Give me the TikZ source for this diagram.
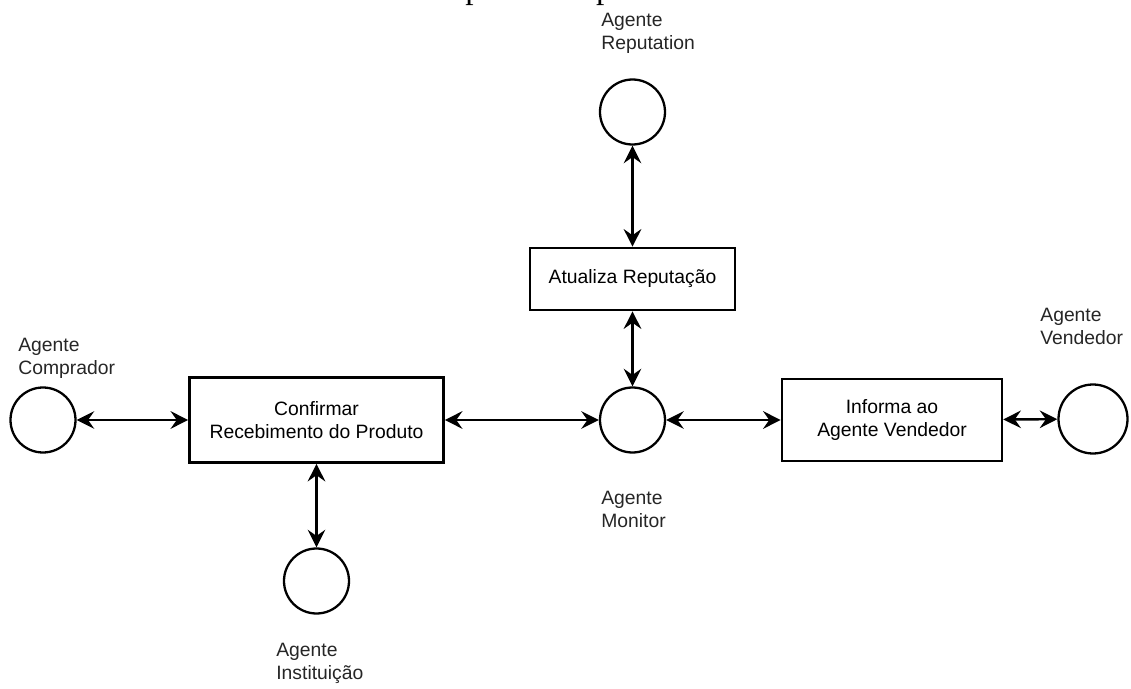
\documentclass[tikz,border=0pt]{standalone}
\usepackage{fontspec}
\setmainfont{Liberation Sans}
\newfontfamily\titlefont{Liberation Serif}
\usetikzlibrary{arrows.meta}
\tikzset{
  agente/.style={circle, draw=black, line width=1.3pt, minimum size=1.3cm, inner sep=0pt},
  acao/.style={rectangle, draw=black, line width=1.5pt, align=center, inner sep=0pt,
    font=\fontsize{11}{13.5}\selectfont},
  rotulo/.style={anchor=north west, align=left, inner sep=0pt,
    font=\fontsize{11}{12.8}\selectfont, text=black!85},
  seta/.style={line width=1.4pt, {Stealth[length=10pt,width=10pt,inset=3.5pt]}-{Stealth[length=10pt,width=10pt,inset=3.5pt]}}
}
\begin{document}
\begin{tikzpicture}
\useasboundingbox (0,0) rectangle (22.62,13.76);
% caption cut by the page edge
\node[anchor=base west, inner sep=0pt, font=\titlefont\fontsize{19}{22}\selectfont] (titulo) at (9.30,13.78) {pelo Comprador};

% agents
\node[agente] (rep) at (12.65,11.52) {};
\node[agente] (mon) at (12.65,5.36) {};
\node[agente] (comp) at (0.86,5.36) {};
\node[agente] (inst) at (6.33,2.14) {};
\node[agente, minimum size=1.38cm] (vend) at (21.86,5.38) {};

% actions
\node[acao, minimum width=4.1cm, minimum height=1.24cm] (atual) at (12.65,8.18) {Atualiza Reputação};
\node[acao, minimum width=5.08cm, minimum height=1.7cm] (conf) at (6.33,5.36) {Confirmar\\Recebimento do Produto};
\node[acao, minimum width=4.4cm, minimum height=1.64cm] (inform) at (17.84,5.36) {Informa ao\\Agente Vendedor};

% labels
\node[rotulo] (lrep) at (12.02,13.50) {Agente\\Reputation};
\node[rotulo] (lcomp) at (0.36,7.00) {Agente\\Comprador};
\node[rotulo] (lmon) at (12.02,3.94) {Agente\\Monitor};
\node[rotulo] (linst) at (5.52,0.90) {Agente\\Instituição};
\node[rotulo] (lvend) at (20.8,7.60) {Agente\\Vendedor};

% connectors
\draw[seta] (rep) -- (atual);
\draw[seta] (atual) -- (mon);
\draw[seta] (comp) -- (conf);
\draw[seta] (conf) -- (mon);
\draw[seta] (conf) -- (inst);
\draw[seta] (mon) -- (inform);
\draw[seta] (inform) -- (vend);
\end{tikzpicture}
\end{document}
